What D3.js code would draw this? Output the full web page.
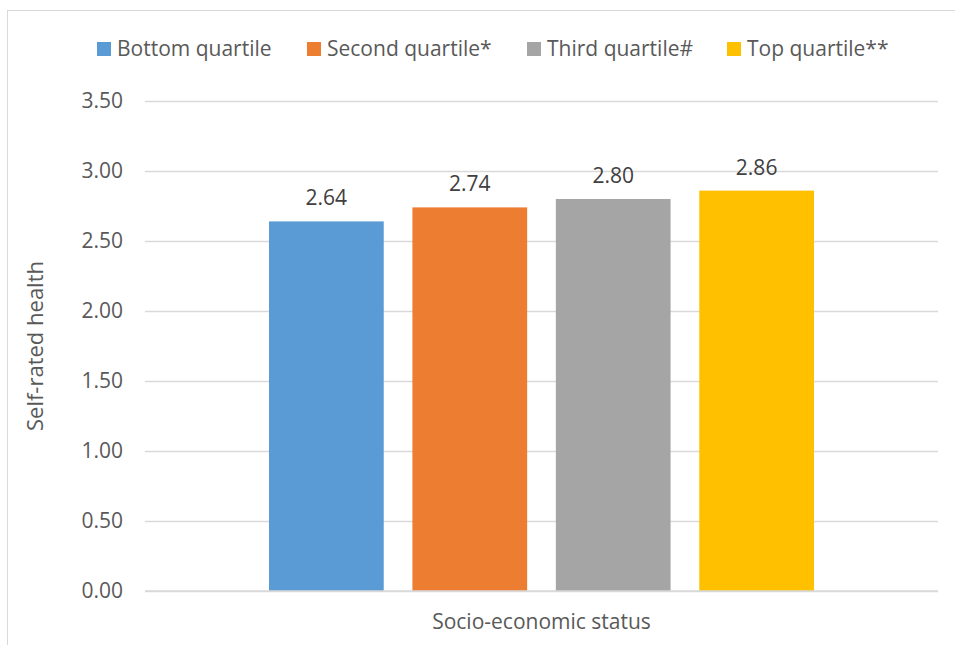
<!DOCTYPE html>
<html>
<head>
<meta charset="utf-8">
<script src="https://cdn.jsdelivr.net/npm/d3@7"></script>
<style>
  body { margin: 0; background: #fff; }
  svg text { font-family: "Open Sans", sans-serif; }
</style>
</head>
<body>
<div id="chart"></div>
<script>
var category = 'Socio-economic status';
var seriesNames = ['Bottom quartile', 'Second quartile*', 'Third quartile#', 'Top quartile**'];
var seriesValues = [2.64, 2.74, 2.80, 2.86];
var seriesColours = ['#5b9bd5', '#ed7d31', '#a5a5a5', '#ffc000'];
var yTicks = [0, 0.5, 1, 1.5, 2, 2.5, 3, 3.5];

var width = 955, height = 645;
var margin = { top: 101, right: 17, bottom: 54, left: 145 };

var svg = d3.select('#chart')
    .append('svg')
    .attr('width', width)
    .attr('height', height);

// chart border
svg.append('rect')
    .attr('x', 7.5)
    .attr('y', 10.5)
    .attr('width', 960)
    .attr('height', 660)
    .attr('fill', 'none')
    .attr('stroke', '#d9d9d9');

var yScale = d3.scaleLinear()
    .domain([0, 3.5])
    .range([height - margin.bottom, margin.top]);

var x0 = d3.scaleBand()
    .domain([category])
    .range([margin.left, width - margin.right])
    .paddingInner(0)
    .paddingOuter(0.2275);

var x1 = d3.scaleBand()
    .domain(seriesNames)
    .range([0, x0.bandwidth()])
    .paddingInner(0.2)
    .paddingOuter(0);

// gridlines + labels via axis
var yAxis = d3.axisLeft(yScale)
    .tickValues(yTicks)
    .tickFormat(d3.format('.2f'))
    .tickSize(-(width - margin.right - margin.left))
    .tickPadding(22);

var gy = svg.append('g')
    .attr('transform', 'translate(' + margin.left + ',0)')
    .call(yAxis);
gy.select('.domain').remove();
gy.selectAll('.tick line')
    .attr('stroke', '#d9d9d9')
    .attr('stroke-width', 1.3);
gy.selectAll('.tick text')
    .attr('fill', '#595959')
    .style('font-size', '21px');

// bars
var cat = svg.append('g')
    .attr('transform', 'translate(' + x0(category) + ',0)');

cat.selectAll('rect')
    .data(seriesValues)
    .join('rect')
    .attr('x', (d, i) => x1(seriesNames[i]))
    .attr('y', d => yScale(d))
    .attr('width', x1.bandwidth())
    .attr('height', d => yScale(0) - yScale(d))
    .attr('fill', (d, i) => seriesColours[i]);

cat.selectAll('text.val')
    .data(seriesValues)
    .join('text')
    .attr('class', 'val')
    .attr('x', (d, i) => x1(seriesNames[i]) + x1.bandwidth() / 2)
    .attr('y', d => yScale(d) - 16)
    .attr('text-anchor', 'middle')
    .attr('fill', '#404040')
    .style('font-size', '21px')
    .text(d => d3.format('.2f')(d));

// x axis baseline
svg.append('line')
    .attr('x1', margin.left)
    .attr('x2', width - margin.right)
    .attr('y1', yScale(0))
    .attr('y2', yScale(0))
    .attr('stroke', '#d9d9d9')
    .attr('stroke-width', 1.3);

// axis titles
svg.append('text')
    .attr('x', x0(category) + x0.bandwidth() / 2)
    .attr('y', 629)
    .attr('text-anchor', 'middle')
    .attr('fill', '#595959')
    .style('font-size', '21px')
    .text(category);

svg.append('text')
    .attr('transform', 'translate(43,' + yScale(1.75) + ') rotate(-90)')
    .attr('text-anchor', 'middle')
    .attr('fill', '#595959')
    .style('font-size', '22px')
    .text('Self-rated health');

// legend
var legendX = [97, 307, 527, 727];
var legend = svg.append('g');
var items = legend.selectAll('g')
    .data(seriesNames)
    .join('g')
    .attr('transform', (d, i) => 'translate(' + legendX[i] + ',49)');
items.append('rect')
    .attr('x', 0)
    .attr('y', -7)
    .attr('width', 14)
    .attr('height', 14)
    .attr('fill', (d, i) => seriesColours[i]);
items.append('text')
    .attr('x', 20)
    .attr('y', 7)
    .attr('fill', '#595959')
    .style('font-size', '21px')
    .text(d => d);
</script>
</body>
</html>
